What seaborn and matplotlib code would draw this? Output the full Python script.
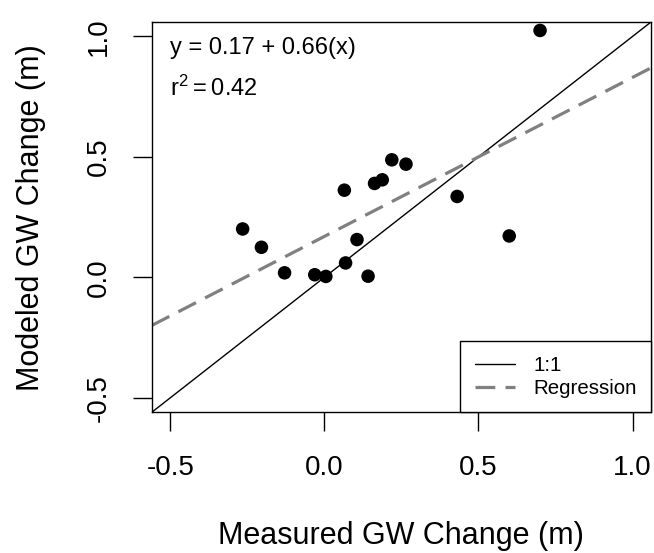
import numpy as np
import pandas as pd
import seaborn as sns
import matplotlib
matplotlib.use("Agg")
import matplotlib.pyplot as plt
from matplotlib.lines import Line2D

# measured vs modeled groundwater change (m)
measured = [0.70, -0.265, -0.204, -0.129, -0.031, 0.005, 0.069, 0.106, 0.142,
            0.065, 0.163, 0.188, 0.219, 0.265, 0.431, 0.600]
modeled = [1.025, 0.201, 0.125, 0.019, 0.011, 0.004, 0.060, 0.157, 0.005,
           0.362, 0.390, 0.405, 0.488, 0.470, 0.336, 0.172]
intercept = 0.17
slope = 0.66
r2 = 0.42
ticks = [-0.5, 0.0, 0.5, 1.0]
lims = (-0.56, 1.06)

df = pd.DataFrame({"Measured": measured, "Modeled": modeled})

sns.set_style("ticks")
plt.rcParams["font.family"] = ["Liberation Sans", "DejaVu Sans"]
plt.rcParams["mathtext.fontset"] = "custom"
plt.rcParams["mathtext.rm"] = "Liberation Sans"
plt.rcParams["text.color"] = "black"
plt.rcParams["axes.labelcolor"] = "black"

fig = plt.figure(figsize=(6.54, 5.53), dpi=100)
ax = fig.add_axes([0.232, 0.2544, 0.7634, 0.7058])

sns.scatterplot(data=df, x="Measured", y="Modeled", ax=ax, color="black",
                s=95, edgecolor="none", zorder=3)

xs = np.array(lims)
ax.plot(xs, xs, color="black", lw=1.0, zorder=2)
ax.plot(xs, intercept + slope * xs, color="#808080", lw=2.3,
        dashes=(6.2, 3.2), zorder=2)

ax.set_xlim(lims)
ax.set_ylim(lims)
ax.set_xticks(ticks)
ax.set_yticks(ticks)
ax.set_xticklabels([f"{t:.1f}" for t in ticks])
ax.set_yticklabels([f"{t:.1f}" for t in ticks], rotation=90, va="center")
ax.tick_params(axis="both", length=13.7, width=1.0, labelsize=20,
               colors="black", labelcolor="black")
ax.tick_params(axis="x", pad=17)
ax.tick_params(axis="y", pad=15)
for sp in ax.spines.values():
    sp.set_visible(True)
    sp.set_linewidth(1.0)
    sp.set_color("black")

ax.set_xlabel("Measured GW Change (m)", fontsize=22, color="black")
ax.set_ylabel("Modeled GW Change (m)", fontsize=22, color="black")
ax.xaxis.set_label_coords(0.5, -0.278)
ax.yaxis.set_label_coords(-0.212, 0.5)

ax.text(0.037, 0.933, f"y = {intercept:.2f} + {slope:.2f}(x)", transform=ax.transAxes,
        fontsize=17, ha="left", va="center", color="black")
ax.text(0.037, 0.83, r"$\mathregular{r^2 = " + f"{r2:.2f}" + "}$", transform=ax.transAxes,
        fontsize=17, ha="left", va="center", color="black")

handles = [Line2D([], [], color="black", lw=1.0),
           Line2D([], [], color="#808080", lw=2.3, dashes=(6.2, 3.2))]
leg = ax.legend(handles, ["1:1", "Regression"], loc="lower right", fontsize=14.8,
                frameon=True, fancybox=False, borderaxespad=0, borderpad=0.7,
                handlelength=1.95, handletextpad=0.9, labelspacing=0.2,
                labelcolor="black")
leg.get_frame().set_edgecolor("black")
leg.get_frame().set_linewidth(1.0)
leg.get_frame().set_alpha(1)

fig.savefig("out.png", dpi=100)
